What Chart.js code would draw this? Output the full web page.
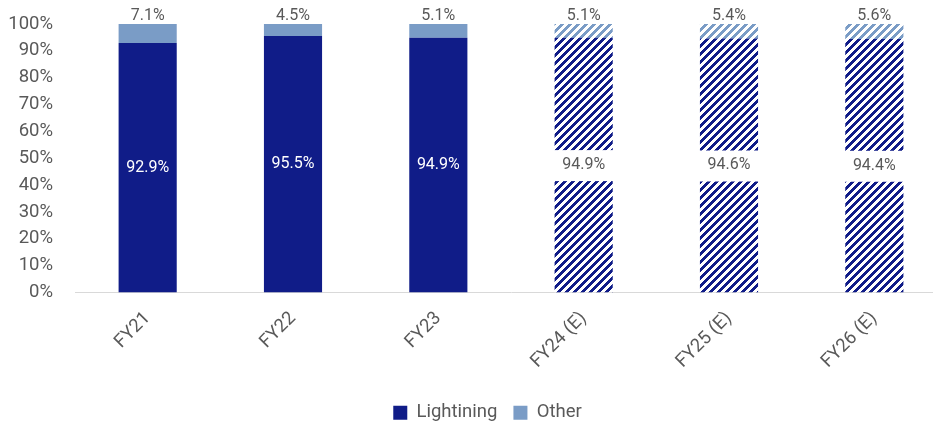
<!DOCTYPE html>
<html>
<head>
<meta charset="utf-8">
<script src="https://cdn.jsdelivr.net/npm/chart.js@4.4.1/dist/chart.umd.min.js"></script>
<style>
  html, body { margin: 0; padding: 0; background: #fff; overflow: hidden; }
  #wrap { width: 947px; height: 424px; }
</style>
</head>
<body>
<div id="wrap"><canvas id="mix" width="947" height="424"></canvas></div>
<script>
// Revenue mix by product line, FY21 - FY26 (E = estimate)
const categories = ['FY21', 'FY22', 'FY23', 'FY24 (E)', 'FY25 (E)', 'FY26 (E)'];
const lightning  = [92.9, 95.5, 94.9, 94.9, 94.6, 94.4];
const other      = [7.1, 4.5, 5.1, 5.1, 5.4, 5.6];
const estimated  = [false, false, false, true, true, true];
const yTicks     = [0, 10, 20, 30, 40, 50, 60, 70, 80, 90, 100];

const NAVY  = '#101c88';
const LIGHT = '#7a9cc6';
const GREY  = '#595959';
const FONT  = 'Roboto, "Noto Sans", sans-serif';

// 8x8 "wide upward diagonal" fill, colour stripes on white
function stripePattern(color) {
  const c = document.createElement('canvas');
  c.width = 8; c.height = 8;
  const g = c.getContext('2d');
  g.fillStyle = '#fff';
  g.fillRect(0, 0, 8, 8);
  g.fillStyle = color;
  for (let y = 0; y < 8; y++) {
    for (let x = 0; x < 8; x++) {
      if ((x + y) % 8 < 4) g.fillRect(x, y, 1, 1);
    }
  }
  return g.createPattern(c, 'repeat');
}

const navyHatch  = stripePattern(NAVY);
const lightHatch = stripePattern(LIGHT);

// solid for actuals, hatched for estimates; legend gets the solid colour
function fillFor(solid, hatch) {
  return ctx => (ctx.type === 'data' && estimated[ctx.dataIndex]) ? hatch : solid;
}

const barLabels = {
  id: 'barLabels',
  // nudge the legend right and down from where the layout puts it
  afterLayout(chart) {
    const lg = chart.legend;
    lg.left += 14;
    lg.right += 14;
    lg.top += 8;
    lg.bottom += 8;
  },
  afterDatasetsDraw(chart) {
    const ctx = chart.ctx;
    ctx.save();
    ctx.font = '16px ' + FONT;
    ctx.textAlign = 'center';
    ctx.textBaseline = 'middle';

    chart.getDatasetMeta(0).data.forEach((bar, i) => {
      const y = (bar.y + bar.base) / 2;
      if (estimated[i]) {
        ctx.fillStyle = '#fff';
        ctx.fillRect(bar.x - bar.width / 2 - 1, y - 15, bar.width + 2, 31);
        ctx.fillStyle = GREY;
      } else {
        ctx.fillStyle = '#fff';
      }
      ctx.fillText(lightning[i].toFixed(1) + '%', bar.x, y);
    });

    ctx.fillStyle = GREY;
    chart.getDatasetMeta(1).data.forEach((bar, i) => {
      ctx.fillText(other[i].toFixed(1) + '%', bar.x, bar.y - 8);
    });
    ctx.restore();
  }
};

new Chart(document.getElementById('mix'), {
  type: 'bar',
  data: {
    labels: categories,
    datasets: [
      {
        label: 'Lightining',
        data: lightning,
        backgroundColor: fillFor(NAVY, navyHatch),
        borderWidth: 0,
        barPercentage: 0.4,
        categoryPercentage: 1
      },
      {
        label: 'Other',
        data: other,
        backgroundColor: fillFor(LIGHT, lightHatch),
        borderWidth: 0,
        barPercentage: 0.4,
        categoryPercentage: 1
      }
    ]
  },
  options: {
    responsive: false,
    animation: false,
    layout: { padding: { left: 0, top: 24, right: 0, bottom: 0 } },
    scales: {
      x: {
        stacked: true,
        afterFit(scale) { scale.height = 87; },
        grid: { display: false, drawTicks: false },
        border: { color: '#d9d9d9', width: 1 },
        ticks: {
          color: GREY,
          font: { family: FONT, size: 18.5 },
          minRotation: 45,
          maxRotation: 45,
          padding: 15
        }
      },
      y: {
        stacked: true,
        min: 0,
        max: 100,
        // fixed width; tick padding should not push the plot down
        afterFit(scale) {
          scale.width = 75;
          scale.paddingTop = 0;
          scale.paddingBottom = 0;
        },
        afterBuildTicks(scale) { scale.ticks = yTicks.map(v => ({ value: v })); },
        grid: { display: false, drawTicks: false },
        border: { display: false },
        ticks: {
          color: GREY,
          font: { family: FONT, size: 18.5 },
          padding: 22,
          callback: v => v + '%'
        }
      }
    },
    plugins: {
      tooltip: { enabled: false },
      legend: {
        position: 'bottom',
        labels: {
          color: GREY,
          font: { family: FONT, size: 18.5 },
          boxWidth: 14,
          boxHeight: 14,
          padding: 16
        }
      }
    }
  },
  plugins: [barLabels]
});
</script>
</body>
</html>
